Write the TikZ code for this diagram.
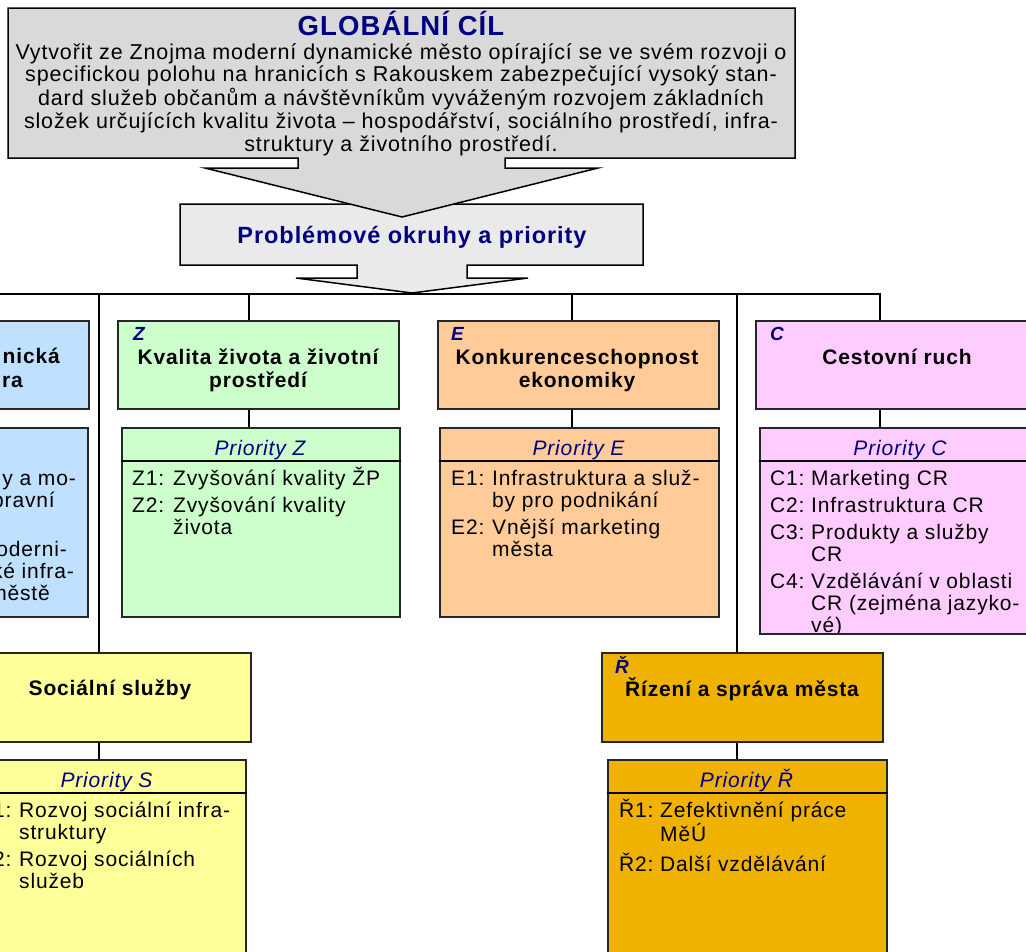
\documentclass[tikz,border=0pt]{standalone}
\usepackage{fontspec}
\setmainfont{Liberation Sans}[LetterSpace=4]
\definecolor{navy}{RGB}{0,0,128}
\definecolor{goalgray}{RGB}{217,217,217}
\definecolor{probgray}{RGB}{234,234,234}
\definecolor{dblue}{RGB}{192,224,255}
\definecolor{zgreen}{RGB}{204,255,204}
\definecolor{eorange}{RGB}{255,204,153}
\definecolor{cpink}{RGB}{255,204,255}
\definecolor{syellow}{RGB}{255,255,153}
\definecolor{rgold}{RGB}{240,178,0}
\definecolor{edge}{RGB}{38,38,38}
\newcommand{\plab}[1]{\makebox[41pt][l]{#1}}
\begin{document}
\begin{tikzpicture}[x=1pt,y=-1pt,
  box/.style={draw=edge, line width=1.6pt, inner sep=0pt, anchor=north west},
  conn/.style={draw=black, line width=2pt},
  sepline/.style={draw=black, line width=2pt},
  callout/.style={draw=black, line width=1.5pt, line join=miter},
  tagst/.style={anchor=base west, text=navy, font=\bfseries\itshape\fontsize{19}{21}\selectfont, inner sep=0pt},
  ttl/.style={anchor=base, font=\bfseries\fontsize{21}{23}\selectfont, inner sep=0pt},
  phead/.style={anchor=base, text=navy, font=\itshape\fontsize{21}{22}\selectfont, inner sep=0pt},
  itemst/.style={anchor=base west, font=\fontsize{21}{22}\selectfont, inner sep=0pt},
  fragb/.style={anchor=base east, font=\bfseries\fontsize{21}{23}\selectfont, inner sep=0pt},
  frag/.style={anchor=base east, font=\fontsize{21}{22}\selectfont, inner sep=0pt}]
\useasboundingbox (0,0) rectangle (1026,951);
\clip (0,0) rectangle (1026,951);

% ---- problem areas box with arrow
\filldraw[callout, fill=probgray] (180,204) -- (643,204) -- (643,265) -- (467,265) -- (467,278) -- (528,278)
  -- (412,293) -- (296,278) -- (357,278) -- (357,265) -- (180,265) -- cycle;
\node[anchor=base, text=navy, font=\bfseries\fontsize{23.5}{26}\selectfont, inner sep=0pt] (ptitle) at (412,243) {Problémové okruhy a priority};

% ---- global goal callout
\filldraw[callout, fill=goalgray] (8,8) -- (795,8) -- (795,158) -- (505,158) -- (505,168) -- (598,168)
  -- (402,217) -- (205,168) -- (298,168) -- (298,158) -- (8,158) -- cycle;
\node[anchor=base, text=navy, font=\bfseries\fontsize{27.5}{30}\selectfont, inner sep=0pt] (gtitle) at (401,35) {GLOBÁLNÍ CÍL};
\node[anchor=base, font=\fontsize{21.5}{22.7}\selectfont, inner sep=0pt] (gtext) at (401,59) {\begin{tabular}[t]{@{}c@{}}
Vytvořit ze Znojma moderní dynamické město opírající se ve svém rozvoji o\\
specifickou polohu na hranicích s Rakouskem zabezpečující vysoký stan-\\
dard služeb občanům a návštěvníkům vyváženým rozvojem základních\\
složek určujících kvalitu života – hospodářství, sociálního prostředí, infra-\\
struktury a životního prostředí.\end{tabular}};

% ---- boxes, row 1
\node[box, fill=dblue,   minimum width=130pt, minimum height=88pt] (D) at (-42,320) {};
\node[box, fill=zgreen,  minimum width=281pt, minimum height=88pt] (Z) at (117,320) {};
\node[box, fill=eorange, minimum width=281pt, minimum height=88pt] (E) at (437,320) {};
\node[box, fill=cpink,   minimum width=300pt, minimum height=88pt] (C) at (755,320) {};

% ---- priority boxes, row 2
\node[box, fill=dblue,   minimum width=129pt, minimum height=189pt] (PD) at (-42,427) {};
\node[box, fill=zgreen,  minimum width=278pt, minimum height=189pt] (PZ) at (121,427) {};
\node[box, fill=eorange, minimum width=279pt, minimum height=189pt] (PE) at (439,427) {};
\node[box, fill=cpink,   minimum width=300pt, minimum height=206pt] (PC) at (759,427) {};

% ---- row 3
\node[box, fill=syellow, minimum width=282pt, minimum height=89pt] (S) at (-32,652) {};
\node[box, fill=rgold,   minimum width=281pt, minimum height=89pt] (R) at (601,652) {};
\node[box, fill=syellow, minimum width=277pt, minimum height=220pt] (PS) at (-32,759) {};
\node[box, fill=rgold,   minimum width=279pt, minimum height=220pt] (PR) at (607,759) {};

% ---- separators in priority boxes
\foreach \n in {PZ,PE,PC,PS,PR}{
  \draw[sepline] ([yshift=-34pt]\n.north west) -- ([yshift=-34pt]\n.north east);
}

% ---- connectors
\coordinate (busL) at (0,294);
\coordinate (busR) at (881,294);
\coordinate (bS) at (99,294);
\coordinate (bZ) at (249,294);
\coordinate (bE) at (572,294);
\coordinate (bR) at (737,294);
\coordinate (bC) at (880,294);
\draw[conn] (busL) -- (busR);
\draw[conn] (bS) -- (bS |- S.north);
\draw[conn] (bS |- S.south) -- (bS |- PS.north);
\draw[conn] (bZ) -- (bZ |- Z.north);
\draw[conn] (bZ |- Z.south) -- (bZ |- PZ.north);
\draw[conn] (bE) -- (bE |- E.north);
\draw[conn] (bE |- E.south) -- (bE |- PE.north);
\draw[conn] (bR) -- (bR |- R.north);
\draw[conn] (bR |- R.south) -- (bR |- PR.north);
\draw[conn] (bC) -- (bC |- C.north);
\draw[conn] (bC |- C.south) -- (bC |- PC.north);

% ---- titles row 1
\node[fragb] (Dt1) at (60,363) {nická};
\node[fragb] (Dt2) at (23,387) {ra};
\node[tagst] (Ztag) at (133,340) {Z};
\node[ttl] (Zttl) at (258,364) {\begin{tabular}[t]{@{}c@{}}Kvalita života a životní\\prostředí\end{tabular}};
\node[tagst] (Etag) at (451,340) {E};
\node[ttl] (Ettl) at (577,364) {\begin{tabular}[t]{@{}c@{}}Konkurenceschopnost\\ekonomiky\end{tabular}};
\node[tagst] (Ctag) at (770,340) {C};
\node[ttl] (Cttl) at (897,364) {Cestovní ruch};

% ---- priority headers
\node[phead] (PZh) at (260,455) {Priority Z};
\node[phead] (PEh) at (578.5,455) {Priority E};
\node[phead] (PCh) at (900,455) {Priority C};
\node[phead] (PSh) at (106.5,787) {Priority S};
\node[phead] (PRh) at (746.5,787) {Priority Ř};

% ---- blue priority fragments
\node[frag] (D1a) at (76,485) {y a mo-};
\node[frag] (D1b) at (55,507) {pravní};
\node[frag] (D2a) at (67,556) {moderni-};
\node[frag] (D2b) at (74,578) {ké infra-};
\node[frag] (D2c) at (50,600) {městě};

% ---- priority lists
\node[itemst] (PZi) at (132,485) {\begin{tabular}[t]{@{}l@{}l@{}}
\plab{Z1:}&Zvyšování kvality ŽP\\[5pt]
\plab{Z2:}&Zvyšování kvality\\
&života\end{tabular}};
\node[itemst] (PEi) at (451,485) {\begin{tabular}[t]{@{}l@{}l@{}}
\plab{E1:}&Infrastruktura a služ-\\
&by pro podnikání\\[5pt]
\plab{E2:}&Vnější marketing\\
&města\end{tabular}};
\begin{scope}
\clip (760,428) rectangle (1040,632);
\node[itemst] (PCi) at (770,485) {\begin{tabular}[t]{@{}l@{}l@{}}
\plab{C1:}&Marketing CR\\[5pt]
\plab{C2:}&Infrastruktura CR\\[5pt]
\plab{C3:}&Produkty a služby\\
&CR\\[5pt]
\plab{C4:}&Vzdělávání v oblasti\\
&CR (zejména jazyko-\\
&vé)\end{tabular}};
\end{scope}
\node[itemst] (PSi) at (-22,817) {\begin{tabular}[t]{@{}l@{}l@{}}
\plab{S1:}&Rozvoj sociální infra-\\
&struktury\\[5pt]
\plab{S2:}&Rozvoj sociálních\\
&služeb\end{tabular}};
\node[itemst] (PRi) at (619,817) {\begin{tabular}[t]{@{}l@{}l@{}}
\plab{Ř1:}&Zefektivnění práce\\
&MěÚ\\[5pt]
\plab{Ř2:}&Další vzdělávání\end{tabular}};

% ---- row 3 titles
\node[ttl] (Sttl) at (110,695) {Sociální služby};
\node[tagst] (Rtag) at (615,673) {Ř};
\node[ttl] (Rttl) at (742,696) {Řízení a správa města};
\end{tikzpicture}
\end{document}
